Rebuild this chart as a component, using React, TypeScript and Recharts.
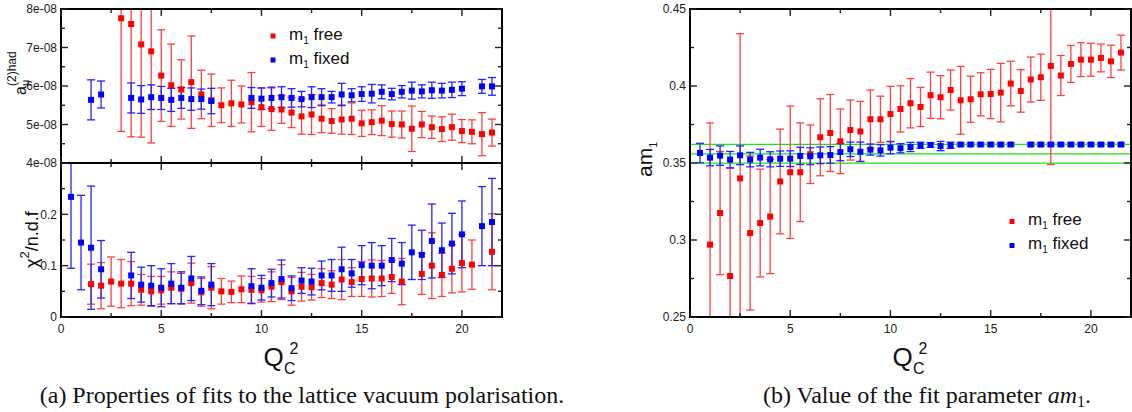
import React from 'react';
import { ScatterChart, Scatter, XAxis, YAxis, ErrorBar, ReferenceLine, ReferenceArea } from 'recharts';

// ---------------- data ----------------
// top-left panel: a_mu^(2)had in units of 1e-08
const qTopFree = [3, 3.5, 4, 4.5, 5, 5.5, 6, 6.5, 7, 7.5, 8, 8.5, 9, 9.5, 10, 10.5, 11, 11.5, 12, 12.5, 13, 13.5, 14, 14.5, 15, 15.5, 16, 16.5, 17, 17.5, 18, 18.5, 19, 19.5, 20, 20.5, 21, 21.5];
const aMuFree = [7.76, 7.61, 7.08, 6.9, 6.27, 6.02, 5.91, 6.1, 5.78, 5.63, 5.5, 5.55, 5.52, 5.58, 5.45, 5.4, 5.39, 5.31, 5.21, 5.26, 5.15, 5.09, 5.13, 5.15, 5.03, 5.06, 5.1, 5.01, 5.0, 4.89, 5.0, 4.93, 4.88, 4.93, 4.83, 4.81, 4.75, 4.79];
const aMuFreeErr = [2.94, 2.93, 2.41, 2.38, 1.19, 1.07, 0.77, 1.2, 0.63, 0.68, 0.45, 0.6, 0.48, 0.77, 0.5, 0.55, 0.36, 0.39, 0.46, 0.52, 0.36, 0.32, 0.38, 0.41, 0.34, 0.32, 0.39, 0.34, 0.35, 0.59, 0.34, 0.29, 0.32, 0.34, 0.3, 0.31, 0.56, 0.35];
const qTopFixed = [1.5, 2, 3.5, 4, 4.5, 5, 5.5, 6, 6.5, 7, 7.5, 9.5, 10, 10.5, 11, 11.5, 12, 12.5, 13, 13.5, 14, 14.5, 15, 15.5, 16, 16.5, 17, 17.5, 18, 18.5, 19, 19.5, 20, 21, 21.5];
const aMuFixed = [5.64, 5.78, 5.69, 5.65, 5.71, 5.69, 5.64, 5.69, 5.66, 5.66, 5.61, 5.69, 5.67, 5.69, 5.71, 5.69, 5.66, 5.71, 5.71, 5.71, 5.78, 5.76, 5.79, 5.8, 5.85, 5.79, 5.85, 5.88, 5.86, 5.89, 5.88, 5.9, 5.93, 5.99, 5.99];
const aMuFixedErr = [0.52, 0.35, 0.39, 0.36, 0.32, 0.3, 0.3, 0.27, 0.29, 0.26, 0.33, 0.27, 0.28, 0.28, 0.27, 0.24, 0.2, 0.27, 0.22, 0.15, 0.29, 0.17, 0.19, 0.24, 0.18, 0.15, 0.16, 0.22, 0.17, 0.21, 0.19, 0.2, 0.18, 0.18, 0.23];

// bottom-left panel: chi^2 / n.d.f
const qChiFree = [1.5, 2, 2.5, 3, 3.5, 4, 4.5, 5, 5.5, 6, 6.5, 7, 7.5, 8, 8.5, 9, 9.5, 10, 10.5, 11, 11.5, 12, 12.5, 13, 13.5, 14, 14.5, 15, 15.5, 16, 16.5, 17, 18, 18.5, 19, 19.5, 20, 20.5, 21.5];
const chiFree = [0.064, 0.061, 0.069, 0.065, 0.065, 0.053, 0.05, 0.052, 0.057, 0.055, 0.066, 0.048, 0.057, 0.05, 0.049, 0.054, 0.053, 0.052, 0.059, 0.068, 0.05, 0.059, 0.058, 0.066, 0.063, 0.073, 0.068, 0.074, 0.075, 0.075, 0.078, 0.069, 0.084, 0.1, 0.082, 0.094, 0.105, 0.102, 0.127];
const chiFreeErr = [0.039, 0.045, 0.048, 0.047, 0.043, 0.03, 0.029, 0.027, 0.031, 0.03, 0.039, 0.027, 0.041, 0.025, 0.021, 0.026, 0.026, 0.023, 0.029, 0.034, 0.027, 0.028, 0.025, 0.028, 0.027, 0.039, 0.028, 0.034, 0.036, 0.035, 0.032, 0.045, 0.04, 0.064, 0.042, 0.047, 0.056, 0.048, 0.074];
const qChiFixed = [0.5, 1, 1.5, 2, 3.5, 4, 4.5, 5, 5.5, 6, 6.5, 7, 7.5, 9.5, 10, 10.5, 11, 11.5, 12, 12.5, 13, 13.5, 14, 14.5, 15, 15.5, 16, 16.5, 17, 17.5, 18, 18.5, 19, 19.5, 20, 21, 21.5];
const chiFixed = [0.234, 0.145, 0.135, 0.093, 0.081, 0.063, 0.061, 0.057, 0.065, 0.057, 0.075, 0.051, 0.063, 0.06, 0.057, 0.066, 0.074, 0.056, 0.071, 0.069, 0.081, 0.081, 0.093, 0.085, 0.101, 0.1, 0.1, 0.111, 0.104, 0.126, 0.121, 0.148, 0.13, 0.143, 0.161, 0.177, 0.185];
const chiFixedErr = [0.139, 0.092, 0.12, 0.056, 0.045, 0.034, 0.039, 0.037, 0.039, 0.031, 0.043, 0.027, 0.041, 0.034, 0.024, 0.027, 0.037, 0.024, 0.025, 0.026, 0.028, 0.031, 0.043, 0.027, 0.038, 0.045, 0.039, 0.042, 0.041, 0.053, 0.048, 0.072, 0.053, 0.059, 0.065, 0.077, 0.085];

// right panel: am_1
const qAmFree = [1, 1.5, 2, 2.5, 3, 3.5, 4, 4.5, 5, 5.5, 6, 6.5, 7, 7.5, 8, 8.5, 9, 9.5, 10, 10.5, 11, 11.5, 12, 12.5, 13, 13.5, 14, 14.5, 15, 15.5, 16, 16.5, 17, 17.5, 18, 18.5, 19, 19.5, 20, 20.5, 21, 21.5];
const amFree = [0.297, 0.3175, 0.2766, 0.34, 0.3045, 0.311, 0.3152, 0.338, 0.344, 0.344, 0.3557, 0.3667, 0.3695, 0.3641, 0.3714, 0.3705, 0.3784, 0.3784, 0.3818, 0.3851, 0.3888, 0.3864, 0.394, 0.3927, 0.3974, 0.3907, 0.3914, 0.3946, 0.3948, 0.3957, 0.4016, 0.3968, 0.4042, 0.4057, 0.413, 0.4068, 0.4143, 0.4171, 0.4171, 0.4182, 0.416, 0.4217];
const amFreeErr = [0.079, 0.04, 0.07, 0.094, 0.05, 0.035, 0.037, 0.034, 0.043, 0.032, 0.019, 0.025, 0.025, 0.021, 0.0195, 0.0195, 0.019, 0.015, 0.018, 0.015, 0.016, 0.0127, 0.015, 0.014, 0.013, 0.022, 0.015, 0.014, 0.016, 0.019, 0.0145, 0.0138, 0.0146, 0.015, 0.064, 0.013, 0.012, 0.011, 0.0107, 0.009, 0.0105, 0.0113];
const qAmFixed = [0.5, 1, 1.5, 2, 2.5, 3, 3.5, 4, 4.5, 5, 5.5, 6, 6.5, 7, 7.5, 8, 8.5, 9, 9.5, 10, 10.5, 11, 11.5, 12, 12.5, 13, 13.5, 14, 14.5, 15, 15.5, 16, 17, 17.5, 18, 18.5, 19, 19.5, 20, 20.5, 21, 21.5];
const amFixed = [0.3565, 0.3535, 0.3548, 0.3522, 0.355, 0.3522, 0.3535, 0.3524, 0.3528, 0.3528, 0.3546, 0.3544, 0.355, 0.3552, 0.3571, 0.3589, 0.3573, 0.3587, 0.3582, 0.36, 0.3596, 0.3604, 0.3615, 0.3617, 0.361, 0.3615, 0.362, 0.362, 0.362, 0.362, 0.362, 0.362, 0.362, 0.362, 0.362, 0.362, 0.362, 0.362, 0.362, 0.362, 0.362, 0.362];
const amFixedErr = [0.0063, 0.0053, 0.0063, 0.0053, 0.0061, 0.0047, 0.0054, 0.0049, 0.005, 0.0051, 0.0056, 0.0055, 0.0054, 0.0054, 0.0056, 0.0047, 0.0063, 0.0036, 0.0037, 0.004, 0.003, 0.003, 0.002, 0.0015, 0.003, 0.002, 0.001, 0.001, 0.001, 0.001, 0.001, 0.001, 0.001, 0.001, 0.001, 0.001, 0.001, 0.001, 0.001, 0.001, 0.001, 0.001];
const amBand = [0.3621, 0.3559, 0.3499];

// ticks
const xTicks = [0, 2.5, 5, 7.5, 10, 12.5, 15, 17.5, 20];
const xMajor = [0, 5, 10, 15, 20];
const xTickLabels = ['0', '5', '10', '15', '20'];
const topYTicks = [4, 4.5, 5, 5.5, 6, 6.5, 7, 7.5, 8];
const topYMajor = [4, 5, 6, 7, 8];
const topYLabels = ['4e-08', '5e-08', '6e-08', '7e-08', '8e-08'];
const chiYTicks = [0, 0.05, 0.1, 0.15, 0.2, 0.25, 0.3];
const chiYMajor = [0, 0.1, 0.2, 0.3];
const chiYLabels = ['0', '0.1', '0.2', ''];
const amYTicks = [0.25, 0.275, 0.3, 0.325, 0.35, 0.375, 0.4, 0.425, 0.45];
const amYMajor = [0.25, 0.3, 0.35, 0.4, 0.45];
const amYLabels = ['0.25', '0.3', '0.35', '0.4', '0.45'];

const seriesLabels = ['free', 'fixed'];

// ---------------- styles ----------------
const FONT = "'Liberation Sans', Arial, Helvetica, sans-serif";
const SERIF = "'Liberation Serif', 'Times New Roman', serif";
const RED = '#ff0000';
const RED_ERR = '#ff4040';
const BLUE = '#0000ff';
const BLUE_ERR = '#2424ff';
const TICK = '#222';
const W = 1132;
const H = 412;

type Pt = { x: number; y: number; e: number };
const build = (xs: number[], ys: number[], es: number[]): Pt[] => xs.map((x, i) => ({ x, y: ys[i], e: es[i] }));

const square = (color: string) => (props: any) => {
  const { cx, cy } = props;
  if (cx == null || cy == null) return <g />;
  return <rect x={cx - 3} y={cy - 3} width={6} height={6} fill={color} />;
};
const invisible = () => <g />;

const idx = (arr: number[], v: number) => arr.findIndex((m) => Math.abs(m - v) < 1e-9);

const makeXTick = (top: number, labels: boolean) => (props: any) => {
  const { x, y, payload } = props;
  const i = idx(xMajor, payload.value);
  const len = i >= 0 ? 7 : 4;
  return (
    <g>
      <line x1={x} y1={y} x2={x} y2={y - len} stroke={TICK} strokeWidth={1.4} />
      <line x1={x} y1={top} x2={x} y2={top + len} stroke={TICK} strokeWidth={1.4} />
      {labels && i >= 0 && (
        <text x={x} y={y + 16} textAnchor="middle" fontSize={12} fontFamily={FONT} fill={TICK}>
          {xTickLabels[i]}
        </text>
      )}
    </g>
  );
};

const makeYTick = (right: number, majors: number[], labels: string[]) => (props: any) => {
  const { x, y, payload } = props;
  const i = idx(majors, payload.value);
  const len = i >= 0 ? 7 : 4;
  return (
    <g>
      <line x1={x} y1={y} x2={x + len} y2={y} stroke={TICK} strokeWidth={1.4} />
      <line x1={right} y1={y} x2={right - len} y2={y} stroke={TICK} strokeWidth={1.4} />
      {i >= 0 && labels[i] !== '' && (
        <text x={x - 4} y={y} dy="0.36em" textAnchor="end" fontSize={12} fontFamily={FONT} fill={TICK}>
          {labels[i]}
        </text>
      )}
    </g>
  );
};

type PanelProps = {
  left: number;
  right: number;
  top: number;
  bottom: number;
  yDomain: [number, number];
  yTicks: number[];
  yMajor: number[];
  yLabels: string[];
  xLabels: boolean;
  free: Pt[];
  fixed: Pt[];
  band?: number[];
};

// layer "data": clipped to the plot rectangle; layer "axes": ticks, labels and frame
function PanelLayer({ p, layer }: { p: PanelProps; layer: 'data' | 'axes' }) {
  const isData = layer === 'data';
  const clip = `inset(${p.top}px ${W - p.right}px ${H - p.bottom}px ${p.left}px)`;
  return (
    <div style={{ position: 'absolute', left: 0, top: 0, width: W, height: H, clipPath: isData ? clip : undefined }}>
      <ScatterChart width={W} height={H} margin={{ top: p.top, right: W - p.right, bottom: 0, left: 0 }}>
        <XAxis
          type="number"
          dataKey="x"
          domain={[0, 22]}
          allowDataOverflow
          ticks={xTicks}
          interval={0}
          height={H - p.bottom}
          axisLine={false}
          tickLine={false}
          tickSize={0}
          tickMargin={0}
          tick={isData ? false : makeXTick(p.top, p.xLabels)}
        />
        <YAxis
          type="number"
          dataKey="y"
          domain={p.yDomain}
          allowDataOverflow
          ticks={p.yTicks}
          interval={0}
          width={p.left}
          axisLine={false}
          tickLine={false}
          tickSize={0}
          tickMargin={0}
          tick={isData ? false : makeYTick(p.right, p.yMajor, p.yLabels)}
        />
        {isData &&
          (p.band || []).map((b) => <ReferenceLine key={b} y={b} stroke="#19e619" strokeWidth={1.3} />)}
        <Scatter data={p.free} isAnimationActive={false} shape={isData ? square(RED) : invisible}>
          {isData && (
            <ErrorBar dataKey="e" direction="y" width={4} stroke={RED_ERR} strokeWidth={1.3} isAnimationActive={false} />
          )}
        </Scatter>
        <Scatter data={p.fixed} isAnimationActive={false} shape={isData ? square(BLUE) : invisible}>
          {isData && (
            <ErrorBar dataKey="e" direction="y" width={4} stroke={BLUE_ERR} strokeWidth={1.3} isAnimationActive={false} />
          )}
        </Scatter>
        {!isData && (
          <ReferenceArea
            x1={0}
            x2={22}
            y1={p.yDomain[0]}
            y2={p.yDomain[1]}
            fill="none"
            fillOpacity={0}
            stroke="#000"
            strokeWidth={2}
            ifOverflow="visible"
          />
        )}
      </ScatterChart>
    </div>
  );
}

function Legend({ x, y, gap }: { x: number; y: number; gap: number }) {
  const rows = [
    { c: RED, t: seriesLabels[0] },
    { c: BLUE, t: seriesLabels[1] },
  ];
  return (
    <g>
      {rows.map((r, i) => (
        <g key={r.t}>
          <rect x={x - 2.5} y={y + i * gap - 2.5} width={5} height={5} fill={r.c} />
          <text x={x + 16} y={y + i * gap + 3.5} fontSize={17} fontFamily={FONT} fill="#111">
            m<tspan fontSize={10} dy={4}>1</tspan>
            <tspan dy={-4}> {r.t}</tspan>
          </text>
        </g>
      ))}
    </g>
  );
}

function QLabel({ x }: { x: number }) {
  return (
    <g fontFamily={FONT} fill="#111">
      <text x={x} y={366} fontSize={26}>Q</text>
      <text x={x + 20.5} y={374} fontSize={16}>C</text>
      <text x={x + 26} y={354} fontSize={16}>2</text>
    </g>
  );
}

export default function App() {
  const panels: PanelProps[] = [
    {
      left: 61, right: 502, top: 9, bottom: 163,
      yDomain: [4, 8], yTicks: topYTicks, yMajor: topYMajor, yLabels: topYLabels, xLabels: false,
      free: build(qTopFree, aMuFree, aMuFreeErr), fixed: build(qTopFixed, aMuFixed, aMuFixedErr),
    },
    {
      left: 61, right: 502, top: 163, bottom: 317,
      yDomain: [0, 0.3], yTicks: chiYTicks, yMajor: chiYMajor, yLabels: chiYLabels, xLabels: true,
      free: build(qChiFree, chiFree, chiFreeErr), fixed: build(qChiFixed, chiFixed, chiFixedErr),
    },
    {
      left: 690, right: W - 1, top: 9, bottom: 317,
      yDomain: [0.25, 0.45], yTicks: amYTicks, yMajor: amYMajor, yLabels: amYLabels, xLabels: true,
      free: build(qAmFree, amFree, amFreeErr), fixed: build(qAmFixed, amFixed, amFixedErr), band: amBand,
    },
  ];
  return (
    <div style={{ position: 'absolute', left: 0, top: 0, width: W, height: H, background: '#fff', overflow: 'hidden' }}>
      {panels.map((p, i) => (
        <PanelLayer key={'d' + i} p={p} layer="data" />
      ))}
      {panels.map((p, i) => (
        <PanelLayer key={'a' + i} p={p} layer="axes" />
      ))}
      <svg width={W} height={H} style={{ position: 'absolute', left: 0, top: 0, pointerEvents: 'none' }}>
        <Legend x={273} y={36} gap={24} />
        <Legend x={1012} y={221.5} gap={24} />
        <QLabel x={263.5} />
        <QLabel x={892.5} />
        <text transform="translate(25.5,95) rotate(-90)" fontFamily={FONT} fill="#111" fontSize={16}>
          a<tspan fontSize={11} dy={3}>μ</tspan>
          <tspan fontSize={12} x={9} y={-10}>(2)had</tspan>
        </text>
        <text transform="translate(38,268) rotate(-90)" fontFamily={FONT} fill="#111" fontSize={18}>
          χ<tspan fontSize={13} dy={-9}>2</tspan>
          <tspan dy={9}>/n.d.f</tspan>
        </text>
        <text transform="translate(651.7,177) rotate(-90)" fontFamily={FONT} fill="#111" fontSize={21}>
          am<tspan fontSize={11} dy={5}>1</tspan>
        </text>
        <text x={302} y={403} textAnchor="middle" fontFamily={SERIF} fontSize={24} fill="#111">
          (a) Properties of fits to the lattice vacuum polarisation.
        </text>
        <text x={927} y={403} textAnchor="middle" fontFamily={SERIF} fontSize={24} fill="#111">
          (b) Value of the fit parameter <tspan fontStyle="italic">am</tspan>
          <tspan fontSize={16} dy={4}>1</tspan>
          <tspan dy={-4}>.</tspan>
        </text>
      </svg>
    </div>
  );
}
